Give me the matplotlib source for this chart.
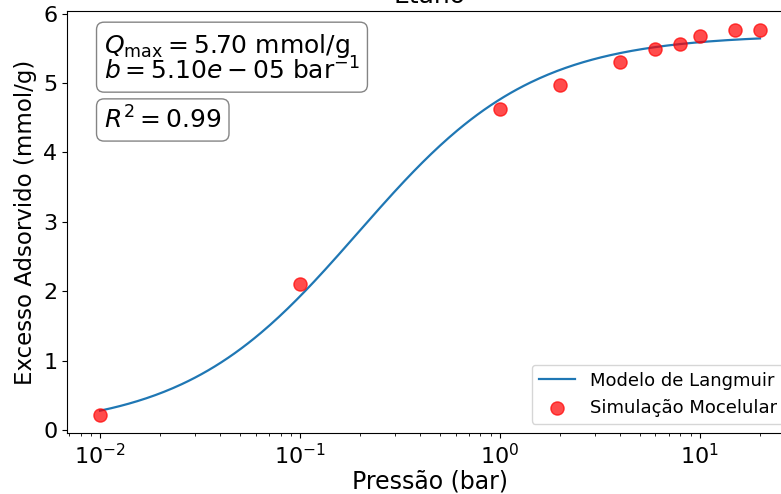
import matplotlib
matplotlib.use("Agg")
import matplotlib.pyplot as plt
import numpy as np

# simulated points (bar, mmol/g)
pressao = [0.01, 0.1, 1, 2, 4, 6, 8, 10, 15, 20]
excesso = [0.22, 2.10, 4.62, 4.98, 5.31, 5.49, 5.57, 5.68, 5.77, 5.77]

# Langmuir parameters shown in the box
q_max = 5.70
b_pa = 5.10e-05          # Pa^-1
r2 = 0.99

p_fit = np.logspace(np.log10(pressao[0]), np.log10(pressao[-1]), 300)
b_bar = b_pa * 1e5
q_fit = q_max * b_bar * p_fit / (1 + b_bar * p_fit)

fig = plt.figure(figsize=(7.81, 4.94), dpi=100)
ax = fig.add_axes([67 / 781, 61 / 494, 726 / 781, 422 / 494])

ax.plot(p_fit, q_fit, color='tab:blue', lw=1.6, label='Modelo de Langmuir')
ax.scatter(pressao, excesso, color='red', alpha=0.7, s=90, zorder=3,
           label='Simulação Mocelular')
ax.set_xscale('log')
ax.set_ylim(-0.045, 6.04)

ax.set_title('Etano', fontsize=18)
ax.set_xlabel('Pressão (bar)', fontsize=17, labelpad=1)
ax.set_ylabel('Excesso Adsorvido (mmol/g)', fontsize=16.5)
ax.tick_params(labelsize=16)

box = dict(boxstyle='round', facecolor='white', edgecolor='0.4', alpha=0.8)
ax.text(0.051, 0.951, '$Q_{\\mathrm{max}} = 5.70$ mmol/g\n$b = 5.10e-05$ bar$^{-1}$',
        transform=ax.transAxes, fontsize=18, va='top', ha='left',
        linespacing=0.9, bbox=box)
ax.text(0.051, 0.774, f'$R^2 = {r2:.2f}$',
        transform=ax.transAxes, fontsize=18, va='top', ha='left', bbox=box)

ax.legend(loc='lower right', fontsize=13)

fig.savefig('out.png', dpi=100)
